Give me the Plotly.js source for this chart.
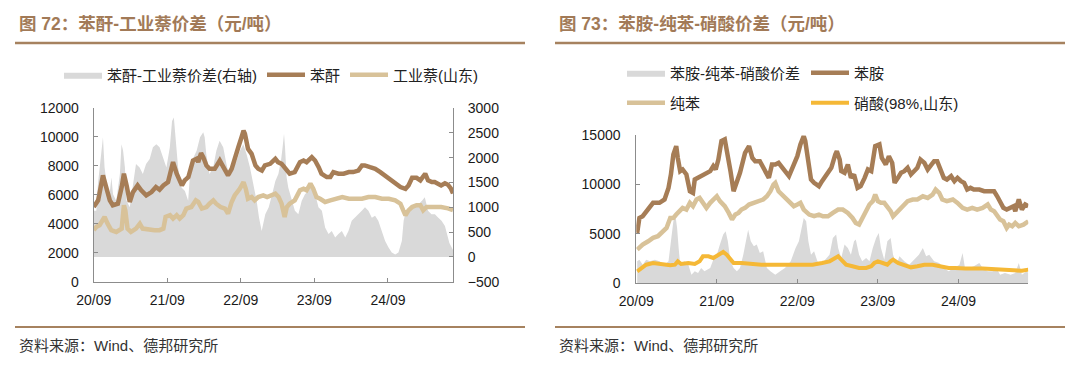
<!DOCTYPE html>
<html><head><meta charset="utf-8">
<script src="https://cdn.plot.ly/plotly-3.0.1.min.js"></script>
<style>html,body{margin:0;padding:0;background:#fff;}#chart{width:1080px;height:366px;}</style>
</head><body><div id="chart"></div>
<script>
// ---------- tick labels ----------
const tickDates = ['2020-09-01','2021-09-01','2022-09-01','2023-09-01','2024-09-01'];
const tickLabels = ['20/09','21/09','22/09','23/09','24/09'];

// ---------- 图72 苯酐 ----------
const paDates = ['2020-09-01','2020-09-23','2020-10-17','2020-11-02','2020-11-20','2020-12-05','2020-12-30','2021-01-18','2021-01-29','2021-02-13','2021-02-27','2021-03-15','2021-04-07','2021-04-25','2021-05-20','2021-06-15','2021-07-07','2021-07-25','2021-08-13','2021-09-05','2021-09-30','2021-10-18','2021-11-13','2021-11-27','2021-12-15','2022-01-07','2022-01-25','2022-02-02','2022-02-16','2022-02-27','2022-03-15','2022-03-30','2022-04-25','2022-05-20','2022-06-04','2022-06-30','2022-07-18','2022-08-02','2022-08-20','2022-09-05','2022-09-15','2022-09-22','2022-10-07','2022-10-25','2022-11-13','2022-11-27','2022-12-15','2022-12-30','2023-01-25','2023-02-20','2023-03-05','2023-03-23','2023-04-18','2023-05-02','2023-05-27','2023-06-22','2023-07-10','2023-07-25','2023-08-20','2023-09-05','2023-09-23','2023-10-07','2023-11-02','2023-11-20','2023-12-05','2023-12-30','2024-01-25','2024-02-20','2024-03-12','2024-04-07','2024-04-25','2024-05-09','2024-06-04','2024-06-30','2024-07-25','2024-08-16','2024-09-12','2024-10-07','2024-11-02','2024-11-27','2024-12-12','2024-12-30','2025-01-21','2025-02-09','2025-02-23','2025-03-05','2025-03-19','2025-04-07','2025-04-21','2025-05-09','2025-05-23','2025-06-11','2025-06-26','2025-07-10','2025-07-21'];
const paPrice = [5160,5620,7340,6540,5620,5280,5390,6540,7460,6540,5510,6190,6650,6310,5960,6190,6540,6350,6650,6880,8260,7460,6650,7000,7230,8370,8490,8260,8880,8600,8030,7800,7800,8370,8030,7340,7800,8600,9290,9980,10440,10210,9180,8830,8030,7800,7680,8030,8140,8490,8260,8140,7680,7460,7570,8260,8370,8260,8600,8370,7910,7460,7230,7230,7570,7460,7460,7570,7570,7680,8030,8030,7910,7800,7570,7340,7110,6880,6540,6420,6650,7180,7180,7000,7340,7460,7000,6880,6880,6770,6650,6800,6700,6450,6100];

// ---------- 图72 工业萘(山东) ----------
const napDates = ['2020-09-01','2020-09-15','2020-09-30','2020-10-17','2020-10-25','2020-11-09','2020-11-27','2020-12-22','2021-01-18','2021-01-29','2021-02-05','2021-02-16','2021-03-05','2021-03-30','2021-04-18','2021-05-02','2021-05-27','2021-06-30','2021-07-25','2021-08-13','2021-08-24','2021-09-15','2021-09-30','2021-10-18','2021-11-02','2021-11-20','2021-12-05','2021-12-30','2022-01-21','2022-02-02','2022-02-20','2022-03-15','2022-03-30','2022-04-18','2022-05-02','2022-05-24','2022-06-15','2022-06-30','2022-07-18','2022-08-02','2022-08-27','2022-09-15','2022-09-26','2022-10-07','2022-10-25','2022-11-09','2022-11-27','2022-12-22','2023-01-10','2023-01-25','2023-02-20','2023-03-08','2023-03-23','2023-04-07','2023-04-18','2023-05-02','2023-05-27','2023-06-22','2023-07-10','2023-07-25','2023-08-13','2023-08-27','2023-09-12','2023-09-30','2023-10-25','2023-11-20','2023-12-15','2024-01-18','2024-02-20','2024-03-23','2024-04-25','2024-05-27','2024-06-30','2024-08-02','2024-09-05','2024-10-07','2024-11-02','2024-11-16','2024-11-27','2024-12-12','2024-12-30','2025-01-21','2025-02-09','2025-02-23','2025-03-12','2025-04-07','2025-04-29','2025-05-23','2025-06-26','2025-07-21'];
const napPrice = [3560,3790,3900,4240,4470,4010,3560,3440,3670,5280,4930,3670,3440,3670,4010,3670,3600,3560,3560,3670,4470,4590,4360,4590,4360,4590,5050,5160,5620,5510,5050,5160,5390,5620,5390,5160,5050,4700,5510,5960,6420,6880,6420,5730,5850,5620,5850,5960,5850,5960,6080,5850,5390,4470,5160,5390,5620,6310,6420,6310,6770,6420,5850,5730,5510,5620,5730,5850,5730,5730,5730,5850,5850,5730,5730,5620,5390,4930,4590,4930,5160,5280,5280,4930,5160,5160,5160,5160,5070,4950];

// ---------- 图72 苯酐-工业萘价差(右轴) ----------
const paSpreadDates = ['2020-09-01','2020-09-14','2020-09-22','2020-10-09','2020-10-17','2020-10-25','2020-11-03','2020-11-15','2020-11-28','2020-12-06','2020-12-22','2021-01-09','2021-01-17','2021-01-25','2021-02-03','2021-02-11','2021-02-27','2021-03-14','2021-03-30','2021-04-17','2021-05-03','2021-05-19','2021-06-06','2021-06-22','2021-07-09','2021-07-25','2021-08-12','2021-08-28','2021-09-14','2021-09-25','2021-10-04','2021-10-12','2021-10-25','2021-11-11','2021-11-28','2021-12-14','2021-12-22','2022-01-09','2022-01-25','2022-02-11','2022-02-27','2022-03-06','2022-03-14','2022-03-30','2022-04-17','2022-05-03','2022-05-19','2022-06-06','2022-06-22','2022-07-09','2022-07-25','2022-08-12','2022-08-28','2022-09-14','2022-09-30','2022-10-17','2022-11-03','2022-11-19','2022-12-01','2022-12-14','2023-01-01','2023-01-18','2023-02-04','2023-02-20','2023-03-07','2023-03-20','2023-03-28','2023-04-04','2023-04-09','2023-04-17','2023-04-25','2023-05-12','2023-05-28','2023-06-14','2023-07-01','2023-07-17','2023-08-03','2023-08-19','2023-09-06','2023-09-22','2023-10-09','2023-10-25','2023-11-11','2023-11-27','2023-12-14','2023-12-30','2024-01-16','2024-02-02','2024-02-18','2024-03-05','2024-03-21','2024-04-08','2024-04-24','2024-05-10','2024-05-27','2024-06-13','2024-06-29','2024-07-15','2024-08-02','2024-08-18','2024-09-04','2024-09-20','2024-10-07','2024-10-23','2024-11-09','2024-11-18','2024-11-25','2024-12-12','2024-12-28','2025-01-14','2025-01-31','2025-02-17','2025-03-03','2025-03-19','2025-04-05','2025-04-22','2025-05-09','2025-05-25','2025-06-11','2025-07-03','2025-07-21'];
const paSpread = [930,930,1470,2140,2410,1800,1470,1130,1600,1260,1130,1670,2270,2140,1800,1130,1000,1470,1870,1800,1670,1870,1970,2210,2270,2210,2000,1800,2210,2740,2810,2470,1800,1400,1330,1130,1600,2000,2140,2410,2510,2410,2070,1670,1800,2140,2340,2210,1870,1600,1800,1940,2140,2270,2070,1800,1470,1130,790,520,860,1000,1260,1530,1670,1940,2210,2480,2210,1600,1400,1130,930,860,1130,1260,1330,1470,1260,1000,930,590,460,520,390,460,520,390,520,730,790,860,930,1000,930,790,830,730,520,320,190,90,50,90,320,730,860,930,1000,1000,1060,1130,1200,930,860,860,790,730,620,280,140];

// ---------- 图73 苯胺 ----------
const anDates = ['2020-09-05','2020-09-15','2020-09-30','2020-10-25','2020-11-16','2020-12-15','2021-01-07','2021-01-25','2021-02-05','2021-02-16','2021-03-01','2021-03-08','2021-03-19','2021-03-30','2021-04-16','2021-05-02','2021-05-16','2021-05-24','2021-06-08','2021-06-22','2021-07-07','2021-08-02','2021-08-16','2021-08-27','2021-09-08','2021-09-22','2021-10-07','2021-10-21','2021-11-02','2021-11-16','2021-12-01','2021-12-15','2022-01-07','2022-01-25','2022-02-09','2022-02-22','2022-03-15','2022-04-07','2022-04-25','2022-05-09','2022-05-24','2022-06-08','2022-06-30','2022-07-25','2022-08-16','2022-09-01','2022-09-15','2022-09-30','2022-10-07','2022-10-21','2022-11-02','2022-11-16','2022-12-08','2022-12-22','2023-01-18','2023-02-02','2023-02-20','2023-02-27','2023-03-12','2023-03-19','2023-04-03','2023-04-18','2023-05-02','2023-05-16','2023-06-01','2023-06-15','2023-07-03','2023-07-18','2023-08-02','2023-08-13','2023-08-20','2023-09-08','2023-09-19','2023-10-07','2023-10-21','2023-11-05','2023-11-16','2023-12-01','2023-12-15','2023-12-30','2024-01-14','2024-01-29','2024-02-13','2024-02-27','2024-03-12','2024-03-30','2024-04-14','2024-04-29','2024-05-13','2024-05-27','2024-06-12','2024-06-26','2024-07-10','2024-07-29','2024-08-13','2024-08-27','2024-09-12','2024-09-26','2024-10-10','2024-10-25','2024-11-09','2024-12-04','2024-12-26','2025-01-18','2025-02-09','2025-02-23','2025-03-08','2025-03-23','2025-04-07','2025-04-25','2025-05-09','2025-05-16','2025-06-01','2025-06-15','2025-06-30','2025-07-14'];
const anPrice = [5090,6610,6780,7460,8140,8140,8480,9660,11020,13050,13900,12710,11360,11530,11020,9320,9150,10510,10680,10850,11020,11360,11870,11530,12540,14410,14580,13050,11360,9320,10340,11190,13220,13900,12710,12370,12370,11360,10680,12030,12030,12200,11530,10850,12030,12880,14070,14920,14410,12370,10510,10170,9830,10340,11190,11700,13050,13390,12540,11360,11190,12030,10680,11020,9660,9830,10680,11530,11360,12710,13900,14070,12710,12030,12880,12200,10170,10680,11190,11360,11700,11020,11360,11700,12540,12200,11530,12030,12370,12370,11360,10680,10510,10850,10340,10680,10340,10170,9490,9660,9490,9490,9320,9320,9320,8810,8140,7630,7460,7630,7800,7290,8480,7460,7970,7800];

// ---------- 图73 纯苯 ----------
const bzDates = ['2020-09-05','2020-09-30','2020-10-25','2020-11-16','2020-12-08','2020-12-30','2021-01-16','2021-02-02','2021-02-16','2021-03-01','2021-03-15','2021-03-30','2021-04-16','2021-05-02','2021-05-16','2021-06-01','2021-06-15','2021-06-30','2021-07-16','2021-08-02','2021-08-16','2021-09-01','2021-09-15','2021-10-07','2021-10-25','2021-11-09','2021-11-24','2021-12-08','2021-12-22','2022-01-07','2022-01-25','2022-02-16','2022-03-08','2022-03-30','2022-04-16','2022-05-02','2022-05-16','2022-05-24','2022-06-08','2022-06-30','2022-07-25','2022-08-16','2022-09-01','2022-09-15','2022-09-30','2022-10-25','2022-11-16','2022-12-08','2022-12-26','2023-01-18','2023-02-09','2023-03-05','2023-03-26','2023-04-18','2023-05-09','2023-05-24','2023-06-08','2023-06-22','2023-07-10','2023-07-25','2023-08-09','2023-08-20','2023-09-01','2023-09-15','2023-09-30','2023-10-14','2023-10-29','2023-11-09','2023-12-01','2023-12-23','2024-01-14','2024-02-06','2024-02-27','2024-03-23','2024-04-14','2024-05-06','2024-05-20','2024-06-05','2024-06-19','2024-07-10','2024-08-06','2024-08-27','2024-09-19','2024-10-10','2024-11-02','2024-11-24','2024-12-19','2025-01-11','2025-01-25','2025-02-09','2025-02-23','2025-03-08','2025-03-23','2025-04-07','2025-04-18','2025-05-02','2025-05-16','2025-06-01','2025-06-22','2025-07-14'];
const bzPrice = [3390,3900,4240,4580,4750,5250,5590,6610,6610,6950,7290,7630,7460,8140,7800,8480,8640,8140,7630,8140,8480,8810,8310,7800,7120,6440,6950,7120,7460,7630,7970,8140,8310,8480,8810,9320,10000,10170,9320,8810,8310,7800,7970,8140,7460,6950,6780,6950,6780,6780,7120,7460,7460,7120,6610,6100,5930,6610,7460,7970,8310,8980,8310,8140,8140,7800,7290,6780,7290,7800,8310,8480,8480,8810,8640,8980,9490,9150,8480,8310,8480,8140,7630,7460,7630,7460,7630,7970,7460,7290,6780,6440,6270,5590,5930,5760,6100,5760,5930,6270];

// ---------- 图73 硝酸(98%,山东) ----------
const naDates = ['2020-09-05','2020-09-23','2020-10-16','2020-11-16','2020-12-22','2021-02-02','2021-02-23','2021-03-08','2021-03-23','2021-04-25','2021-05-24','2021-06-15','2021-06-30','2021-07-25','2021-08-16','2021-09-08','2021-09-30','2021-10-16','2021-11-02','2021-11-16','2021-12-22','2022-02-02','2022-03-23','2022-06-08','2022-08-24','2022-11-09','2022-12-22','2023-01-25','2023-02-20','2023-03-05','2023-03-19','2023-04-10','2023-05-09','2023-06-08','2023-07-10','2023-08-02','2023-08-16','2023-09-01','2023-09-23','2023-10-14','2023-10-29','2023-11-09','2023-12-01','2023-12-30','2024-01-29','2024-02-27','2024-03-30','2024-05-06','2024-06-12','2024-07-18','2024-08-16','2024-10-03','2024-12-19','2025-03-01','2025-05-02','2025-06-15','2025-07-14'];
const naPrice = [1190,1530,1860,2030,1930,1800,1860,2200,1930,2030,1930,2200,2710,2710,2540,2880,3150,2880,2370,2030,2030,1930,1860,1860,1860,1860,2030,2200,2540,2710,2370,1860,1700,1530,1530,1700,2030,2200,2030,1860,2200,2370,2030,1800,1590,1700,1860,1860,1700,1530,1530,1460,1460,1390,1360,1250,1360];

// ---------- 图73 苯胺-纯苯-硝酸价差 ----------
const anSpreadDates = ['2020-09-05','2020-09-15','2020-09-30','2020-10-16','2020-11-02','2020-11-24','2020-12-15','2021-01-07','2021-01-25','2021-02-05','2021-02-16','2021-02-27','2021-03-05','2021-03-12','2021-03-19','2021-04-07','2021-04-25','2021-05-09','2021-05-24','2021-06-08','2021-06-22','2021-07-07','2021-08-02','2021-08-16','2021-09-01','2021-09-15','2021-09-30','2021-10-11','2021-10-21','2021-11-02','2021-11-16','2021-12-01','2021-12-15','2021-12-30','2022-01-07','2022-01-21','2022-02-02','2022-02-16','2022-03-01','2022-03-15','2022-03-30','2022-04-16','2022-05-02','2022-05-24','2022-06-15','2022-07-07','2022-08-02','2022-08-24','2022-09-08','2022-09-19','2022-09-30','2022-10-11','2022-10-21','2022-11-02','2022-11-16','2022-12-01','2022-12-15','2022-12-30','2023-01-25','2023-02-09','2023-02-24','2023-03-05','2023-03-19','2023-04-03','2023-04-18','2023-05-02','2023-05-16','2023-05-24','2023-06-08','2023-06-22','2023-07-10','2023-07-25','2023-08-09','2023-08-24','2023-09-05','2023-09-15','2023-09-30','2023-10-14','2023-10-29','2023-11-09','2023-11-24','2023-12-08','2023-12-30','2024-01-21','2024-02-13','2024-03-05','2024-03-23','2024-04-07','2024-04-21','2024-05-13','2024-06-05','2024-06-26','2024-07-18','2024-08-13','2024-09-05','2024-09-19','2024-09-30','2024-10-18','2024-11-09','2024-12-04','2024-12-19','2025-01-11','2025-02-02','2025-02-23','2025-03-08','2025-03-30','2025-04-25','2025-05-16','2025-06-01','2025-06-15','2025-07-07','2025-07-14'];
const anSpread = [2200,2370,1860,2370,2200,2370,2200,1860,2200,4240,6270,6610,5590,3560,1860,2200,1860,850,1190,1020,1530,1190,1530,2370,2880,3900,4920,5250,4240,2200,1530,1190,1530,2880,3900,5420,4240,3730,3900,3050,3220,1530,1190,850,1190,1530,2200,3560,4240,5590,6610,6270,4240,2880,3220,2200,2030,2200,2880,4580,4920,3560,2540,3900,3560,2880,4240,4410,2880,2200,2540,2200,3560,4580,5090,3560,2370,4240,4580,2880,1860,2710,2200,1860,2370,2880,3560,2710,2880,2200,2030,1530,1190,1530,1860,3050,1530,1530,1700,2030,1530,1190,1190,1360,850,1020,850,1020,2030,850,1190,1020];

// ---------- styles ----------
const BROWN = '#a67d56', TAN = '#d8c299', ORANGE = '#f5b836', GRAY = '#d9d9d9';
const AXIS = '#8c8c8c', TICKTXT = '#1a1a1a', TITLE = '#a27a57';
const NUMFONT = 'Liberation Sans, Arial, sans-serif';
const CJKFONT = 'Liberation Sans, Noto Sans CJK SC, sans-serif';
const W = 1080, H = 366;
const px = v => v / W, py = v => 1 - v / H;

const traces = [
  {type:'scatter', mode:'lines', name:'苯酐-工业萘价差(右轴)', x:paSpreadDates, y:paSpread,
   xaxis:'x', yaxis:'y', fill:'tozeroy', fillcolor:GRAY, line:{width:0, color:GRAY}, legend:'legend'},
  {type:'scatter', mode:'lines', name:'苯酐', x:paDates, y:paPrice,
   xaxis:'x', yaxis:'y2', line:{width:4.5, color:BROWN}, legend:'legend'},
  {type:'scatter', mode:'lines', name:'工业萘(山东)', x:napDates, y:napPrice,
   xaxis:'x', yaxis:'y2', line:{width:4.5, color:TAN}, legend:'legend'},

  {type:'scatter', mode:'lines', name:'苯胺-纯苯-硝酸价差', x:anSpreadDates, y:anSpread,
   xaxis:'x2', yaxis:'y3', fill:'tozeroy', fillcolor:GRAY, line:{width:0, color:GRAY}, legend:'legend2'},
  {type:'scatter', mode:'lines', name:'苯胺', x:anDates, y:anPrice,
   xaxis:'x2', yaxis:'y3', line:{width:4.5, color:BROWN}, legend:'legend2'},
  {type:'scatter', mode:'lines', name:'纯苯', x:bzDates, y:bzPrice,
   xaxis:'x2', yaxis:'y3', line:{width:4.5, color:TAN}, legend:'legend3'},
  {type:'scatter', mode:'lines', name:'硝酸(98%,山东)', x:naDates, y:naPrice,
   xaxis:'x2', yaxis:'y3', line:{width:4, color:ORANGE}, legend:'legend3'}
];

const axisBase = {
  showline:true, linecolor:AXIS, linewidth:1, ticks:'inside', ticklen:4, tickwidth:1, tickcolor:AXIS,
  showgrid:false, zeroline:false, tickformat:'d',
  tickfont:{family:NUMFONT, size:14, color:TICKTXT}, fixedrange:true
};
const xBase = Object.assign({}, axisBase, {type:'date', tickformat:'', tickmode:'array', tickvals:tickDates, ticktext:tickLabels, ticklabelstandoff:5});

const leftDom = [px(93.7), px(453)];
const leftY = [py(281.7), py(108)];
const rightDom = [px(636.3), px(1028.3)];
const rightY = [py(283), py(135.3)];

const legendBase = {orientation:'h', xanchor:'left', yanchor:'middle', bgcolor:'rgba(0,0,0,0)',
  font:{family:CJKFONT, size:15, color:'#222'}, itemwidth:38, itemclick:false, itemdoubleclick:false};

const layout = {
  width:W, height:H, margin:{l:0, r:0, t:0, b:0}, paper_bgcolor:'#fff', plot_bgcolor:'rgba(0,0,0,0)',
  showlegend:true, hovermode:false,
  xaxis: Object.assign({}, xBase, {domain:leftDom, anchor:'y2', range:['2020-09-01','2025-07-21']}),
  yaxis: Object.assign({}, axisBase, {domain:leftY, anchor:'x', side:'right', range:[-500,3000], tickmode:'linear', tick0:0, dtick:500, ticklabelstandoff:11}),
  yaxis2: Object.assign({}, axisBase, {overlaying:'y', anchor:'x', side:'left', range:[0,12000], tickmode:'linear', tick0:0, dtick:2000, ticklabelstandoff:11}),
  xaxis2: Object.assign({}, xBase, {domain:rightDom, anchor:'y3', range:['2020-09-01','2025-07-14']}),
  yaxis3: Object.assign({}, axisBase, {domain:rightY, anchor:'x2', side:'left', range:[0,15000], tickmode:'linear', tick0:0, dtick:5000, ticklabelstandoff:12}),
  legend: Object.assign({}, legendBase, {x:px(59), y:py(75)}),
  legend2: Object.assign({}, legendBase, {x:px(622), y:py(73), entrywidth:131}),
  legend3: Object.assign({}, legendBase, {x:px(622), y:py(103), entrywidth:131}),
  annotations: [
    {xref:'paper', yref:'paper', x:px(17), y:py(24), xanchor:'left', yanchor:'middle', showarrow:false,
     text:'图 72：苯酐-工业萘价差（元/吨）', font:{family:CJKFONT, size:17.5, color:TITLE, weight:'bold'}},
    {xref:'paper', yref:'paper', x:px(557), y:py(24), xanchor:'left', yanchor:'middle', showarrow:false,
     text:'图 73：苯胺-纯苯-硝酸价差（元/吨）', font:{family:CJKFONT, size:17.5, color:TITLE, weight:'bold'}},
    {xref:'paper', yref:'paper', x:px(17), y:py(345), xanchor:'left', yanchor:'middle', showarrow:false,
     text:'资料来源：Wind、德邦研究所', font:{family:CJKFONT, size:15, color:'#333'}},
    {xref:'paper', yref:'paper', x:px(557), y:py(345), xanchor:'left', yanchor:'middle', showarrow:false,
     text:'资料来源：Wind、德邦研究所', font:{family:CJKFONT, size:15, color:'#333'}}
  ],
  shapes: [
    {type:'line', xref:'paper', yref:'paper', x0:px(15), x1:px(525), y0:py(43), y1:py(43), line:{color:'#a6825f', width:2.5}},
    {type:'line', xref:'paper', yref:'paper', x0:px(555), x1:px(1065), y0:py(43), y1:py(43), line:{color:'#a6825f', width:2.5}},
    {type:'line', xref:'paper', yref:'paper', x0:px(15), x1:px(525), y0:py(327), y1:py(327), line:{color:'#a6825f', width:2}},
    {type:'line', xref:'paper', yref:'paper', x0:px(555), x1:px(1065), y0:py(327), y1:py(327), line:{color:'#a6825f', width:2}}
  ]
};

Plotly.newPlot('chart', traces, layout, {staticPlot:true, displayModeBar:false});
</script>
</body></html>
